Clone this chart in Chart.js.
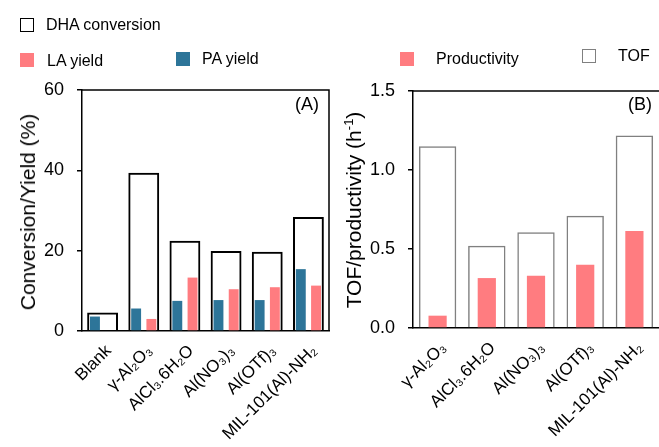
<!DOCTYPE html>
<html>
<head>
<meta charset="utf-8">
<script src="https://cdn.jsdelivr.net/npm/chart.js@4.4.0/dist/chart.umd.min.js"></script>
<style>
  body { margin: 0; background: #fff; }
  #wrap { position: relative; width: 659px; height: 447px; overflow: hidden; font-family: Arial, "Liberation Sans", sans-serif; color: #000; }
  canvas { position: absolute; top: 0; }
  .lg { position: absolute; font-size: 16px; white-space: nowrap; line-height: 1; }
  .sw { position: absolute; width: 14px; height: 14px; box-sizing: border-box; }
  .ttl { position: absolute; font-size: 21px; white-space: nowrap; transform: translate(-50%, -50%) rotate(-90deg); }
  .tag { position: absolute; font-size: 18px; line-height: 1; }
</style>
</head>
<body>
<div id="wrap">
  <canvas id="chartA" width="345" height="447" style="left:0"></canvas>
  <canvas id="chartB" width="314" height="447" style="left:345px"></canvas>

  <!-- legends -->
  <div class="sw" style="left:20px;top:18px;border:1.5px solid #000"></div>
  <div class="lg" style="left:46px;top:17px">DHA conversion</div>
  <div class="sw" style="left:20px;top:53px;background:#ff7c80"></div>
  <div class="lg" style="left:47px;top:53px">LA yield</div>
  <div class="sw" style="left:176px;top:52px;background:#2d7599"></div>
  <div class="lg" style="left:202px;top:51px">PA yield</div>
  <div class="sw" style="left:400px;top:52px;background:#ff7c80"></div>
  <div class="lg" style="left:436px;top:51px">Productivity</div>
  <div class="sw" style="left:582px;top:49px;border:1.5px solid #808080"></div>
  <div class="lg" style="left:618px;top:48px">TOF</div>

  <!-- axis titles -->
  <div class="ttl" style="left:28px;top:212px">Conversion/Yield (%)</div>
  <div class="ttl" style="left:353px;top:210px">TOF/productivity (h<sup style="font-size:13px">-1</sup>)</div>

  <div class="tag" style="left:295px;top:95px">(A)</div>
  <div class="tag" style="left:628px;top:95px">(B)</div>
</div>
<script>
// panel A
const categoriesA = ['Blank', 'γ-Al₂O₃', 'AlCl₃.6H₂O', 'Al(NO₃)₃', 'Al(OTf)₃', 'MIL-101(Al)-NH₂'];
const dhaConversion = [4.6, 39.4, 22.5, 19.9, 19.7, 28.4];
const paYield = [3.6, 5.6, 7.5, 7.7, 7.7, 15.4];
const laYield = [0, 3.0, 13.3, 10.4, 10.9, 11.3];
const ticksA = [0, 20, 40, 60];

// panel B
const categoriesB = ['γ-Al₂O₃', 'AlCl₃.6H₂O', 'Al(NO₃)₃', 'Al(OTf)₃', 'MIL-101(Al)-NH₂'];
const tof = [1.15, 0.52, 0.606, 0.711, 1.218];
const productivity = [0.078, 0.316, 0.33, 0.40, 0.614];
const ticksB = [0, 0.5, 1.0, 1.5];

const PINK = '#ff7c80';
const BLUE = '#2d7599';
const FONT = { family: 'Arial, "Liberation Sans", sans-serif', size: 18 };

// draws the top (and optionally right) edge of the plot box
const frame = {
    id: 'frame',
    afterDraw(chart, args, opts) {
        const { ctx, chartArea: a } = chart;
        ctx.save();
        ctx.strokeStyle = '#000';
        ctx.lineWidth = 1.5;
        ctx.beginPath();
        ctx.moveTo(a.left, a.top);
        ctx.lineTo(a.right, a.top);
        if (opts.right) ctx.lineTo(a.right, a.bottom);
        ctx.stroke();
        ctx.restore();
    }
};

function yAxis(max, ticks, width, fmt) {
    return {
        min: 0, max: max,
        afterFit: s => { s.width = width; },
        afterBuildTicks: s => { s.ticks = ticks.map(v => ({ value: v })); },
        grid: { display: true, drawOnChartArea: false, drawTicks: true, tickLength: 5, color: '#000', lineWidth: 1.5 },
        border: { display: true, color: '#000', width: 1.5 },
        ticks: { color: '#000', font: FONT, padding: 13, callback: fmt }
    };
}

function xAxis(height) {
    return {
        afterFit: s => { s.height = height; },
        grid: { display: false },
        border: { display: true, color: '#000', width: 1.5 },
        ticks: { color: '#000', font: { family: FONT.family, size: 17 }, minRotation: 45, maxRotation: 45,
                 padding: 2, labelOffset: 6, autoSkip: false }
    };
}

new Chart(document.getElementById('chartA'), {
    type: 'bar',
    data: {
        labels: categoriesA,
        datasets: [
            { label: 'DHA conversion', data: dhaConversion, grouped: false,
              backgroundColor: 'rgba(0,0,0,0)', borderColor: '#000', borderWidth: 2,
              categoryPercentage: 1, barPercentage: 0.75 },
            { label: 'PA yield', data: paYield, backgroundColor: BLUE,
              categoryPercentage: 0.74, barPercentage: 0.65 },
            { label: 'LA yield', data: laYield, backgroundColor: PINK,
              categoryPercentage: 0.74, barPercentage: 0.65 }
        ]
    },
    options: {
        responsive: false,
        animation: false,
        layout: { padding: { left: 0, top: 90, right: 16, bottom: 0 } },
        plugins: { legend: { display: false }, tooltip: { enabled: false }, frame: { right: true } },
        scales: {
            x: xAxis(116),
            y: yAxis(60, ticksA, 82, v => v)
        }
    },
    plugins: [frame]
});

new Chart(document.getElementById('chartB'), {
    type: 'bar',
    data: {
        labels: categoriesB,
        datasets: [
            { label: 'Productivity', data: productivity, backgroundColor: PINK, grouped: false,
              categoryPercentage: 1, barPercentage: 0.37 },
            { label: 'TOF', data: tof, backgroundColor: 'rgba(0,0,0,0)', borderColor: '#808080',
              borderWidth: 1.5, grouped: false, categoryPercentage: 1, barPercentage: 0.76 }
        ]
    },
    options: {
        responsive: false,
        animation: false,
        layout: { padding: { left: 0, top: 91, right: 0, bottom: 0 } },
        plugins: { legend: { display: false }, tooltip: { enabled: false }, frame: { right: false } },
        scales: {
            x: xAxis(119),
            y: yAxis(1.5, ticksB, 68, v => v.toFixed(1))
        }
    },
    plugins: [frame]
});
</script>
</body>
</html>
